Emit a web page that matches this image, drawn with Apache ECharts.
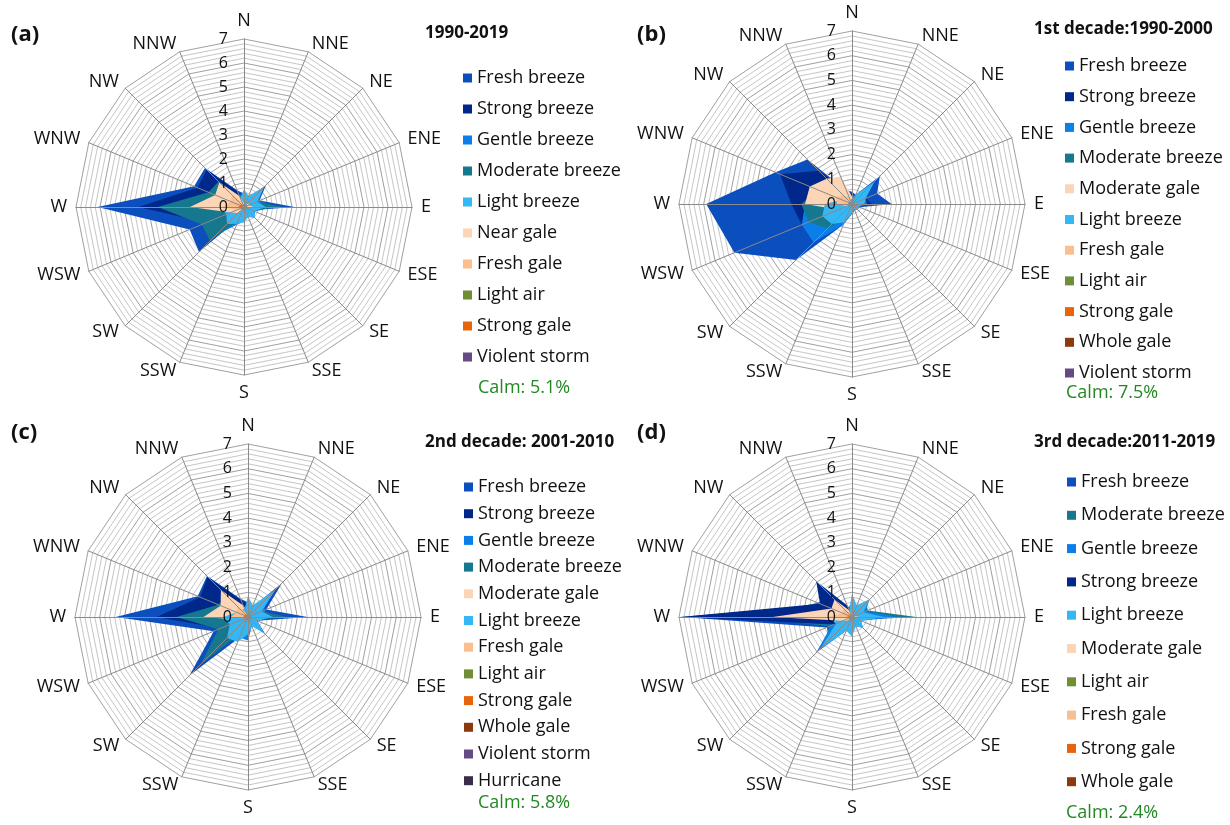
<!DOCTYPE html>
<html>
<head>
<meta charset="utf-8">
<script src="https://cdn.jsdelivr.net/npm/echarts@6/dist/echarts.min.js"></script>
<style>
  html, body { margin: 0; padding: 0; background: #ffffff; }
  #chart { width: 1230px; height: 825px; }
</style>
</head>
<body>
<div id="chart"></div>
<script>
// Compass sectors, listed clockwise from north
const directions = ['N', 'NNE', 'NE', 'ENE', 'E', 'ESE', 'SE', 'SSE', 'S', 'SSW', 'SW', 'WSW', 'W', 'WNW', 'NW', 'NNW'];
// Radial tick labels (frequency, %)
const radialTicks = [0, 1, 2, 3, 4, 5, 6, 7];
const minorStepsPerUnit = 5;

// Panel (a) 1990-2019 : values per sector, N .. NNW
const A_freshBreeze    = [0.55, 0.35, 1.30, 0.70, 2.10, 0.35, 0.45, 0.25, 0.30, 0.50, 2.65, 2.45, 6.10, 2.25, 2.30, 0.75];
const A_strongBreeze   = [0.30, 0.20, 0.60, 0.40, 1.30, 0.15, 0.20, 0.10, 0.10, 0.20, 1.40, 1.70, 4.40, 2.10, 2.20, 0.70];
const A_gentleBreeze   = [0.60, 0.50, 1.10, 0.70, 1.20, 0.50, 0.60, 0.45, 0.60, 0.80, 1.70, 1.40, 2.60, 1.20, 1.00, 0.50];
const A_moderateBreeze = [0.50, 0.40, 1.00, 0.60, 1.60, 0.35, 0.45, 0.30, 0.35, 0.60, 2.00, 1.90, 3.60, 1.60, 1.50, 0.50];
const A_lightBreeze    = [0.75, 0.50, 1.20, 0.60, 0.90, 0.45, 0.65, 0.45, 0.65, 0.75, 1.00, 0.80, 1.00, 0.60, 0.50, 0.40];
const A_nearGale       = [0.15, 0.10, 0.25, 0.20, 0.40, 0.10, 0.10, 0.05, 0.05, 0.10, 0.35, 0.60, 2.25, 1.30, 1.45, 0.50];
const A_freshGale      = [0.05, 0.03, 0.10, 0.10, 0.20, 0.03, 0.03, 0.02, 0.02, 0.05, 0.15, 0.30, 0.90, 0.60, 0.70, 0.20];
const A_lightAir       = [0.15, 0.10, 0.15, 0.12, 0.15, 0.10, 0.12, 0.10, 0.12, 0.12, 0.15, 0.12, 0.15, 0.10, 0.10, 0.10];
const A_strongGale     = [0.01, 0.00, 0.02, 0.02, 0.05, 0.00, 0.00, 0.00, 0.00, 0.01, 0.03, 0.08, 0.25, 0.15, 0.20, 0.05];
const A_violentStorm   = [0.00, 0.00, 0.00, 0.00, 0.00, 0.00, 0.00, 0.00, 0.00, 0.00, 0.00, 0.00, 0.02, 0.01, 0.01, 0.00];

// Panel (b) 1st decade 1990-2000
const B_freshBreeze    = [0.50, 0.40, 1.60, 1.10, 1.60, 0.35, 0.30, 0.20, 0.30, 0.90, 3.20, 5.15, 5.90, 3.35, 2.55, 0.60];
const B_strongBreeze   = [0.40, 0.20, 0.90, 0.60, 0.80, 0.10, 0.10, 0.05, 0.10, 0.30, 1.20, 2.20, 2.45, 3.15, 1.90, 0.60];
const B_gentleBreeze   = [0.30, 0.40, 0.80, 0.60, 0.60, 0.30, 0.30, 0.30, 0.40, 0.90, 2.20, 2.20, 1.90, 1.00, 0.70, 0.30];
const B_moderateBreeze = [0.30, 0.30, 0.80, 0.50, 0.60, 0.20, 0.20, 0.15, 0.25, 0.60, 1.40, 1.90, 2.05, 1.50, 1.00, 0.40];
const B_moderateGale   = [0.30, 0.20, 0.35, 0.40, 0.50, 0.15, 0.10, 0.05, 0.05, 0.10, 0.30, 0.60, 1.90, 1.85, 1.45, 1.20];
const B_lightBreeze    = [0.20, 0.40, 1.30, 0.60, 0.50, 0.30, 0.35, 0.25, 0.35, 0.80, 1.15, 1.30, 1.10, 0.45, 0.30, 0.20];
const B_freshGale      = [0.05, 0.05, 0.10, 0.10, 0.15, 0.03, 0.03, 0.02, 0.02, 0.05, 0.10, 0.25, 0.60, 0.70, 0.50, 0.30];
const B_lightAir       = [0.12, 0.10, 0.12, 0.10, 0.12, 0.10, 0.10, 0.10, 0.10, 0.12, 0.12, 0.12, 0.12, 0.10, 0.10, 0.10];
const B_strongGale     = [0.01, 0.00, 0.02, 0.02, 0.03, 0.00, 0.00, 0.00, 0.00, 0.01, 0.03, 0.05, 0.15, 0.15, 0.12, 0.05];
const B_wholeGale      = [0.00, 0.00, 0.00, 0.00, 0.01, 0.00, 0.00, 0.00, 0.00, 0.00, 0.00, 0.01, 0.03, 0.03, 0.02, 0.01];
const B_violentStorm   = [0.00, 0.00, 0.00, 0.00, 0.00, 0.00, 0.00, 0.00, 0.00, 0.00, 0.00, 0.00, 0.01, 0.01, 0.01, 0.00];

// Panel (c) 2nd decade 2001-2010
const C_freshBreeze    = [0.60, 0.40, 1.95, 0.80, 2.40, 0.40, 1.00, 0.30, 0.80, 0.90, 3.35, 1.50, 5.35, 2.20, 2.35, 0.80];
const C_strongBreeze   = [0.50, 0.20, 0.90, 0.40, 1.20, 0.10, 0.30, 0.10, 0.20, 0.30, 1.50, 1.20, 3.70, 2.10, 2.30, 0.75];
const C_gentleBreeze   = [0.50, 0.50, 1.20, 0.70, 1.00, 0.40, 0.80, 0.40, 0.95, 0.90, 1.60, 1.00, 1.60, 0.80, 0.70, 0.40];
const C_moderateBreeze = [0.40, 0.40, 1.40, 0.60, 1.60, 0.30, 0.60, 0.30, 0.50, 0.70, 2.70, 1.30, 2.90, 1.30, 1.20, 0.40];
const C_moderateGale   = [0.20, 0.10, 0.20, 0.15, 0.30, 0.05, 0.10, 0.05, 0.05, 0.10, 0.30, 0.30, 1.80, 1.20, 1.55, 0.50];
const C_lightBreeze    = [0.85, 0.50, 1.60, 0.60, 1.00, 0.40, 0.90, 0.40, 0.70, 1.10, 1.20, 0.80, 1.00, 0.50, 0.40, 0.35];
const C_freshGale      = [0.05, 0.03, 0.08, 0.05, 0.10, 0.02, 0.03, 0.02, 0.02, 0.04, 0.10, 0.15, 0.70, 0.50, 0.60, 0.20];
const C_lightAir       = [0.12, 0.10, 0.12, 0.10, 0.12, 0.10, 0.10, 0.10, 0.10, 0.12, 0.12, 0.12, 0.12, 0.10, 0.10, 0.10];
const C_strongGale     = [0.01, 0.00, 0.01, 0.01, 0.02, 0.00, 0.00, 0.00, 0.00, 0.01, 0.02, 0.04, 0.20, 0.12, 0.15, 0.04];
const C_wholeGale      = [0.00, 0.00, 0.00, 0.00, 0.00, 0.00, 0.00, 0.00, 0.00, 0.00, 0.00, 0.01, 0.04, 0.02, 0.03, 0.01];
const C_violentStorm   = [0.00, 0.00, 0.00, 0.00, 0.00, 0.00, 0.00, 0.00, 0.00, 0.00, 0.00, 0.00, 0.01, 0.01, 0.01, 0.00];
const C_hurricane      = [0.00, 0.00, 0.00, 0.00, 0.00, 0.00, 0.00, 0.00, 0.00, 0.00, 0.00, 0.00, 0.01, 0.00, 0.00, 0.00];

// Panel (d) 3rd decade 2011-2019
const D_freshBreeze    = [0.30, 0.30, 0.70, 0.50, 2.00, 0.30, 0.30, 0.20, 0.20, 0.30, 1.30, 1.10, 6.90, 1.30, 1.60, 0.40];
const D_moderateBreeze = [0.50, 0.40, 0.80, 0.70, 2.60, 0.30, 0.40, 0.30, 0.40, 0.40, 1.60, 1.00, 4.00, 1.50, 1.20, 0.40];
const D_gentleBreeze   = [0.60, 0.50, 1.00, 0.60, 1.80, 0.40, 0.60, 0.40, 0.60, 0.60, 2.05, 0.90, 2.00, 0.90, 0.70, 0.40];
const D_strongBreeze   = [0.20, 0.10, 0.30, 0.20, 0.80, 0.10, 0.10, 0.05, 0.05, 0.10, 0.60, 0.80, 6.95, 1.40, 2.05, 0.50];
const D_lightBreeze    = [0.95, 0.50, 1.00, 0.50, 1.30, 0.40, 0.65, 0.40, 0.80, 0.60, 1.80, 0.70, 1.00, 0.50, 0.40, 0.30];
const D_moderateGale   = [0.10, 0.05, 0.10, 0.10, 0.30, 0.05, 0.05, 0.03, 0.03, 0.05, 0.20, 0.40, 3.20, 0.90, 1.00, 0.30];
const D_lightAir       = [0.12, 0.10, 0.12, 0.10, 0.12, 0.10, 0.10, 0.10, 0.10, 0.12, 0.12, 0.12, 0.12, 0.10, 0.10, 0.10];
const D_freshGale      = [0.04, 0.02, 0.05, 0.04, 0.10, 0.02, 0.02, 0.01, 0.01, 0.03, 0.08, 0.15, 1.00, 0.40, 0.50, 0.15];
const D_strongGale     = [0.01, 0.00, 0.01, 0.01, 0.02, 0.00, 0.00, 0.00, 0.00, 0.00, 0.02, 0.04, 0.25, 0.10, 0.12, 0.03];
const D_wholeGale      = [0.00, 0.00, 0.00, 0.00, 0.00, 0.00, 0.00, 0.00, 0.00, 0.00, 0.00, 0.01, 0.05, 0.02, 0.02, 0.00];

// Wind-class colours
const classColors = {
  'Fresh breeze': '#0B4EBD',
  'Strong breeze': '#00278A',
  'Gentle breeze': '#0A7FEA',
  'Moderate breeze': '#16788F',
  'Light breeze': '#35B6F5',
  'Near gale': '#FCD5B6',
  'Moderate gale': '#FCD5B6',
  'Fresh gale': '#FBBF8F',
  'Light air': '#6F8E36',
  'Strong gale': '#E8640C',
  'Whole gale': '#8A3A0C',
  'Violent storm': '#654B84',
  'Hurricane': '#3B2C4A'
};

const FONT = "'Open Sans', 'Liberation Sans', sans-serif";

// Each panel: classes in drawing/legend order (first one sits at the back)
const panels = [
  {
    tag: '(a)', heading: '1990-2019', calm: 'Calm: 5.1%',
    series: [
      ['Fresh breeze', A_freshBreeze], ['Strong breeze', A_strongBreeze], ['Gentle breeze', A_gentleBreeze],
      ['Moderate breeze', A_moderateBreeze], ['Light breeze', A_lightBreeze], ['Near gale', A_nearGale],
      ['Fresh gale', A_freshGale], ['Light air', A_lightAir], ['Strong gale', A_strongGale], ['Violent storm', A_violentStorm]
    ],
    center: [244, 207], radius: 168,
    tagPos: [11, 35], headPos: [425, 33], calmPos: [478, 388],
    legendPos: [463, 78], legendStep: 31
  },
  {
    tag: '(b)', heading: '1st decade:1990-2000', calm: 'Calm: 7.5%',
    series: [
      ['Fresh breeze', B_freshBreeze], ['Strong breeze', B_strongBreeze], ['Gentle breeze', B_gentleBreeze],
      ['Moderate breeze', B_moderateBreeze], ['Moderate gale', B_moderateGale], ['Light breeze', B_lightBreeze],
      ['Fresh gale', B_freshGale], ['Light air', B_lightAir], ['Strong gale', B_strongGale],
      ['Whole gale', B_wholeGale], ['Violent storm', B_violentStorm]
    ],
    center: [852, 204], radius: 173,
    tagPos: [637, 35], headPos: [1034, 29], calmPos: [1066, 393],
    legendPos: [1065, 66], legendStep: 30.7
  },
  {
    tag: '(c)', heading: '2nd decade: 2001-2010', calm: 'Calm: 5.8%',
    series: [
      ['Fresh breeze', C_freshBreeze], ['Strong breeze', C_strongBreeze], ['Gentle breeze', C_gentleBreeze],
      ['Moderate breeze', C_moderateBreeze], ['Moderate gale', C_moderateGale], ['Light breeze', C_lightBreeze],
      ['Fresh gale', C_freshGale], ['Light air', C_lightAir], ['Strong gale', C_strongGale],
      ['Whole gale', C_wholeGale], ['Violent storm', C_violentStorm], ['Hurricane', C_hurricane]
    ],
    center: [248, 617], radius: 173,
    tagPos: [11, 433], headPos: [425, 442], calmPos: [478, 803],
    legendPos: [464, 487], legendStep: 26.7
  },
  {
    tag: '(d)', heading: '3rd decade:2011-2019', calm: 'Calm: 2.4%',
    series: [
      ['Fresh breeze', D_freshBreeze], ['Moderate breeze', D_moderateBreeze], ['Gentle breeze', D_gentleBreeze],
      ['Strong breeze', D_strongBreeze], ['Light breeze', D_lightBreeze], ['Moderate gale', D_moderateGale],
      ['Light air', D_lightAir], ['Fresh gale', D_freshGale], ['Strong gale', D_strongGale], ['Whole gale', D_wholeGale]
    ],
    center: [852, 617], radius: 173,
    tagPos: [637, 433], headPos: [1034, 442], calmPos: [1066, 813],
    legendPos: [1067, 482], legendStep: 33.3
  }
];

// ECharts lays radar indicators out counter-clockwise; reorder so the compass runs clockwise
const ccwIndex = directions.map((_, i) => (directions.length - i) % directions.length);
const toCcw = arr => ccwIndex.map(i => arr[i]);

const radialMax = radialTicks[radialTicks.length - 1];
const splitCount = radialMax * minorStepsPerUnit;
const ringColors = ['#a0a0a0'].concat(Array(minorStepsPerUnit - 1).fill('#c6c6c6'));

function tickFormatter(v) {
  const r = Math.round(v);
  return (Math.abs(v - r) < 1e-6 && radialTicks.indexOf(r) >= 0) ? String(r) : '';
}

const radars = [];
const series = [];
const legends = [];
const titles = [];

panels.forEach((p, k) => {
  const indicator = ccwIndex.map(i => ({ name: directions[i], min: 0, max: radialMax }));
  // back layer: rings and sector names
  radars.push({
    center: p.center, radius: p.radius, startAngle: 90, shape: 'polygon',
    splitNumber: splitCount, nameGap: 9, z: 1,
    axisName: { color: '#111', fontFamily: FONT, fontSize: 18 },
    splitLine: { show: true, lineStyle: { color: ringColors, width: 1 } },
    splitArea: { show: false },
    axisLine: { show: false }, axisTick: { show: false }, axisLabel: { show: false },
    indicator: indicator
  });
  // front layer: spokes and the radial scale on the north spoke
  radars.push({
    center: p.center, radius: p.radius, startAngle: 90, shape: 'polygon',
    splitNumber: splitCount, z: 3, silent: true,
    axisName: { show: false },
    splitLine: { show: false }, splitArea: { show: false },
    axisLine: { show: true, lineStyle: { color: '#8a8a8a', width: 1 } },
    axisTick: { show: false },
    axisLabel: { show: false, color: '#111', fontFamily: FONT, fontSize: 16, margin: 16, formatter: tickFormatter },
    indicator: indicator.map((ind, i) => i === 0
      ? { name: '', min: ind.min, max: ind.max, axisLabel: { show: true } }
      : { name: '', min: ind.min, max: ind.max })
  });

  series.push({
    type: 'radar', radarIndex: 2 * k, symbol: 'none', z: 2, silent: true,
    data: p.series.map(([name, vals]) => ({
      name: name,
      value: toCcw(vals),
      itemStyle: { color: classColors[name] },
      lineStyle: { width: 0, color: classColors[name] },
      areaStyle: { color: classColors[name], opacity: 1 }
    }))
  });

  const lh = 20;
  legends.push({
    orient: 'vertical', left: p.legendPos[0], top: p.legendPos[1] - lh / 2,
    itemGap: p.legendStep - lh, itemWidth: 9, itemHeight: 9, icon: 'rect',
    padding: 0, selectedMode: false,
    textStyle: { color: '#111', fontFamily: FONT, fontSize: 18, lineHeight: lh, padding: [0, 0, 0, 0] },
    data: p.series.map(s => s[0])
  });

  titles.push({
    text: p.tag, left: p.tagPos[0], top: p.tagPos[1] - 14, padding: 0,
    textStyle: { color: '#111', fontFamily: FONT, fontSize: 22, fontWeight: 'bold', lineHeight: 28 }
  });
  titles.push({
    text: p.heading, left: p.headPos[0], top: p.headPos[1] - 10, padding: 0,
    textStyle: { color: '#111', fontFamily: FONT, fontSize: 17, fontWeight: 'bold', lineHeight: 20 }
  });
  titles.push({
    text: p.calm, left: p.calmPos[0], top: p.calmPos[1] - 10, padding: 0,
    textStyle: { color: '#238823', fontFamily: FONT, fontSize: 18, fontWeight: 'normal', lineHeight: 20 }
  });
});

const chart = echarts.init(document.getElementById('chart'), null, { renderer: 'canvas' });
chart.setOption({
  backgroundColor: '#ffffff',
  animation: false,
  title: titles,
  legend: legends,
  radar: radars,
  series: series
});
</script>
</body>
</html>
